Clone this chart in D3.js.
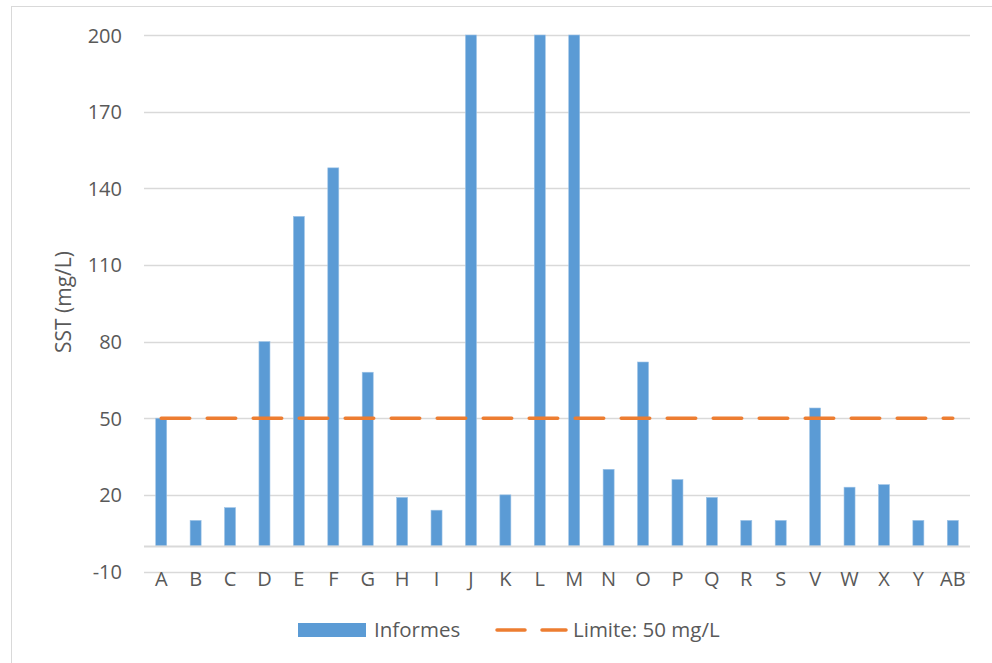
<!DOCTYPE html>
<html>
<head>
<meta charset="utf-8">
<script src="https://cdn.jsdelivr.net/npm/d3@7"></script>
<style>
  html, body { margin: 0; padding: 0; background: #fff; }
  svg { display: block; }
  text { font-family: "Open Sans", "Segoe UI", sans-serif; fill: #595959; }
</style>
</head>
<body>
<svg id="chart" width="992" height="663"></svg>
<script>
const categories = ["A","B","C","D","E","F","G","H","I","J","K","L","M","N","O","P","Q","R","S","V","W","X","Y","AB"];
const informes = [50,10,15,80,129,148,68,19,14,200,20,200,200,30,72,26,19,10,10,54,23,24,10,10];
const limite = 50;
const yTicks = [-10,20,50,80,110,140,170,200];
const seriesNames = ["Informes", "Limite: 50 mg/L"];
const yTitle = "SST (mg/L)";

const svg = d3.select("#chart");
const W = 992, H = 663;
const plot = { left: 144, right: 970, top: 35, bottom: 571.5 };

// outer chart border
svg.append("rect")
  .attr("x", 11.5).attr("y", 6.5)
  .attr("width", W + 10).attr("height", H + 10)
  .attr("fill", "#fff").attr("stroke", "#d9d9d9").attr("stroke-width", 1);

const x = d3.scaleBand()
  .domain(categories)
  .range([plot.left, plot.right])
  .paddingInner(0.68)
  .paddingOuter(0.34);

const y = d3.scaleLinear()
  .domain([-10, 200])
  .range([plot.bottom, plot.top]);

// gridlines
svg.append("g")
  .selectAll("line")
  .data(yTicks)
  .join("line")
  .attr("x1", plot.left).attr("x2", plot.right)
  .attr("y1", d => Math.round(y(d)) + 0.5)
  .attr("y2", d => Math.round(y(d)) + 0.5)
  .attr("stroke", "#d9d9d9").attr("stroke-width", 1.5);

// y tick labels via axis
const yAxis = d3.axisLeft(y).tickValues(yTicks).tickFormat(d => String(d)).tickSize(0).tickPadding(0);
const gy = svg.append("g")
  .attr("transform", `translate(${plot.left - 22},0)`)
  .call(yAxis);
gy.select(".domain").remove();
gy.selectAll("text")
  .style("font-size", "20px")
  .attr("dy", "0.35em")
  .attr("fill", "#595959");

// bars
svg.append("g")
  .selectAll("rect")
  .data(informes)
  .join("rect")
  .attr("x", (d, i) => x(categories[i]))
  .attr("width", x.bandwidth())
  .attr("y", d => y(Math.max(0, d)))
  .attr("height", d => Math.abs(y(d) - y(0)))
  .attr("fill", "#5b9bd5")
  .attr("stroke", "#9dc3e6").attr("stroke-width", 0.6);

// zero line
svg.append("line")
  .attr("x1", plot.left).attr("x2", plot.right)
  .attr("y1", Math.round(y(0)) + 0.5).attr("y2", Math.round(y(0)) + 0.5)
  .attr("stroke", "#d9d9d9").attr("stroke-width", 2);

// limit line
const cx = c => x(c) + x.bandwidth() / 2;
svg.append("line")
  .attr("x1", cx(categories[0]))
  .attr("x2", cx(categories[categories.length - 1]))
  .attr("y1", y(limite)).attr("y2", y(limite))
  .attr("stroke", "#ed7d31").attr("stroke-width", 3.5)
  .attr("stroke-linecap", "round")
  .attr("stroke-dasharray", "28.5,17.5");

// x category labels via axis
const xAxis = d3.axisBottom(x).tickSize(0).tickPadding(0);
const gx = svg.append("g")
  .attr("transform", `translate(0,${plot.bottom - 1})`)
  .call(xAxis);
gx.select(".domain").remove();
gx.selectAll("text")
  .style("font-size", "20px")
  .attr("dy", "0.78em")
  .attr("fill", "#595959");

// y axis title
svg.append("text")
  .attr("transform", `translate(71,302) rotate(-90)`)
  .attr("text-anchor", "middle")
  .style("font-size", "21px")
  .text(yTitle);

// legend
const leg = svg.append("g");
leg.append("rect")
  .attr("x", 298).attr("y", 623).attr("width", 68).attr("height", 14)
  .attr("fill", "#5b9bd5");
leg.append("text")
  .attr("x", 374).attr("y", 637)
  .style("font-size", "20.5px")
  .text(seriesNames[0]);
leg.append("line")
  .attr("x1", 497).attr("x2", 566).attr("y1", 630).attr("y2", 630)
  .attr("stroke", "#ed7d31").attr("stroke-width", 3.5)
  .attr("stroke-linecap", "round")
  .attr("stroke-dasharray", "28,17");
leg.append("text")
  .attr("x", 573).attr("y", 637)
  .style("font-size", "20.5px")
  .text(seriesNames[1]);
</script>
</body>
</html>
